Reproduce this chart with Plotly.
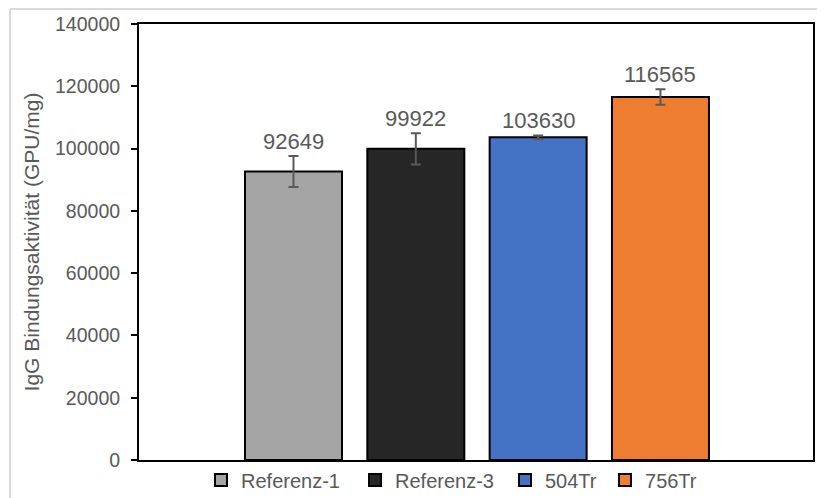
import plotly.graph_objects as go

names = ["Referenz-1", "Referenz-3", "504Tr", "756Tr"]
values = [92649, 99922, 103630, 116565]
errors = [5000, 5000, 600, 2500]
colors = ["#A5A5A5", "#262626", "#4472C4", "#ED7D31"]
y_ticks = [0, 20000, 40000, 60000, 80000, 100000, 120000, 140000]

FONT = "Liberation Sans, Arial, sans-serif"
GRAY = "#595959"

legend_ids = ["legend", "legend2", "legend3", "legend4"]
legend_x = [0.092, 0.3205, 0.543, 0.6914]

fig = go.Figure()
for n, v, e, c, lg in zip(names, values, errors, colors, legend_ids):
    fig.add_trace(go.Bar(
        x=[n], y=[v], name=n, legend=lg,
        marker=dict(color=c, line=dict(color="#000000", width=2)),
        width=0.793,
        error_y=dict(type="data", array=[e], visible=True, color=GRAY, thickness=2, width=5),
    ))
    fig.add_annotation(x=n, y=v + e, text=f"{v}", showarrow=False, yanchor="bottom",
                       yshift=0, font=dict(family=FONT, size=22, color=GRAY))

legend_style = dict(orientation="h", xanchor="left", y=-0.046, yanchor="middle",
                    font=dict(family=FONT, size=20, color=GRAY), itemwidth=30,
                    bgcolor="rgba(0,0,0,0)")
legends = {lg: dict(legend_style, x=lx) for lg, lx in zip(legend_ids, legend_x)}

fig.update_layout(
    width=817, height=490,
    margin=dict(l=131, r=12, t=16, b=38, autoexpand=False),
    paper_bgcolor="white", plot_bgcolor="white",
    barmode="overlay",
    showlegend=True,
    xaxis=dict(type="category", categoryorder="array", categoryarray=names,
               range=[-1.263, 4.247], showticklabels=False, ticks="",
               showline=True, linecolor="#000000", linewidth=2, mirror=True,
               showgrid=False, zeroline=False, fixedrange=True),
    yaxis=dict(range=[0, 140000], tickvals=y_ticks, ticktext=[str(t) for t in y_ticks],
               ticks="outside", ticklen=6, tickwidth=2, tickcolor="#000000",
               ticklabelstandoff=7,
               tickfont=dict(family=FONT, size=19.5, color=GRAY),
               title=dict(text="IgG Bindungsaktivität (GPU/mg)", standoff=10,
                          font=dict(family=FONT, size=21, color=GRAY)),
               showline=True, linecolor="#000000", linewidth=2, mirror=True,
               showgrid=False, zeroline=False, fixedrange=True),
    shapes=[
        dict(type="line", xref="paper", yref="paper", x0=-0.1914, x1=1.03, y0=1.0344, y1=1.0344,
             line=dict(color="#D9D9D9", width=2)),
        dict(type="line", xref="paper", yref="paper", x0=-0.1914, x1=-0.1914, y0=-0.1, y1=1.0344,
             line=dict(color="#D9D9D9", width=2)),
    ],
    **legends,
)

fig.write_html("out.html")
